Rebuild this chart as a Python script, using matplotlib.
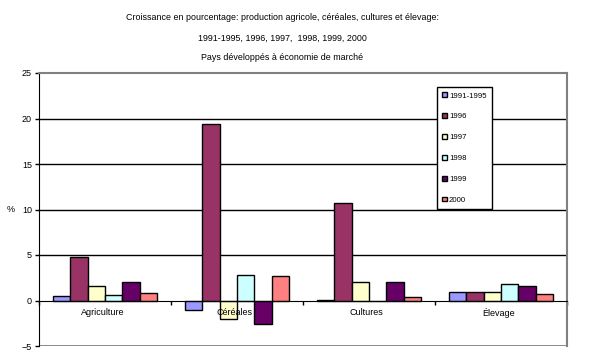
import matplotlib
matplotlib.use("Agg")
import matplotlib.pyplot as plt
import numpy as np

plt.rcParams['font.family'] = ['Liberation Sans', 'DejaVu Sans']

categories = ["Agriculture", "Céréales", "Cultures", "Élevage"]
series = ["1991-1995", "1996", "1997", "1998", "1999", "2000"]
colors = ["#9999FF", "#993366", "#FFFFCC", "#CCFFFF", "#660066", "#FF8080"]

v_9195 = [0.5, -1.0, 0.05, 0.9]
v_1996 = [4.8, 19.4, 10.7, 0.9]
v_1997 = [1.6, -2.05, 2.0, 0.9]
v_1998 = [0.6, 2.8, 0.0, 1.8]
v_1999 = [2.0, -2.6, 2.0, 1.6]
v_2000 = [0.85, 2.7, 0.4, 0.7]
values = [v_9195, v_1996, v_1997, v_1998, v_1999, v_2000]

fig = plt.figure(figsize=(5.89, 3.62), dpi=100)
ax = fig.add_axes([39 / 589, 1 - 346 / 362, 528 / 589, 273 / 362])

x = np.arange(len(categories))
w = 0.131
for i, (s, vals) in enumerate(zip(series, values)):
    ax.bar(x + (i - 2.5) * w, vals, w, color=colors[i], edgecolor="black",
           linewidth=1, label=s, zorder=3)

ax.set_xlim(-0.5, 3.5)
ax.set_ylim(-5, 25)
ax.set_yticks(range(-5, 26, 5))
for yv in [5, 10, 15, 20]:
    ax.axhline(yv, color="black", linewidth=1, zorder=1)
ax.axhline(-5, color="gray", linewidth=2, zorder=1)

ax.spines['bottom'].set_position(('data', 0))
ax.spines['bottom'].set_zorder(4)
ax.spines['top'].set_color("gray")
ax.spines['right'].set_color("gray")
ax.spines['top'].set_linewidth(1.5)
ax.spines['right'].set_linewidth(1.5)
ax.set_xticks([-0.5, 0.5, 1.5, 2.5, 3.5])
ax.set_xticklabels([])
ax.tick_params(axis='x', direction='out', length=3, width=1)
ax.tick_params(axis='y', direction='out', length=3, width=1, labelsize=6.5, pad=2)

for xi, c in zip(x, categories):
    ax.text(xi - 0.02, -1.35, c, ha="center", va="center", fontsize=6.5, zorder=5)

ax.set_ylabel("%", fontsize=6.5, rotation=0, labelpad=8, va="center")

fig.text(282 / 589, 1 - 18 / 362,
         "Croissance en pourcentage: production agricole, céréales, cultures et élevage:",
         ha="center", va="center", fontsize=6.4)
fig.text(282 / 589, 1 - 38 / 362, "1991-1995, 1996, 1997,  1998, 1999, 2000",
         ha="center", va="center", fontsize=6.4)
fig.text(282 / 589, 1 - 57 / 362, "Pays développés à économie de marché",
         ha="center", va="center", fontsize=6.4)

leg = fig.legend(loc="upper left", bbox_to_anchor=(437 / 589, 1 - 87 / 362),
                 fontsize=5.6, handlelength=0.6, handleheight=0.6,
                 handletextpad=0.25, labelspacing=1.75, borderpad=0.7,
                 borderaxespad=0, fancybox=False, framealpha=1,
                 edgecolor="black")
leg.get_frame().set_linewidth(1)

fig.savefig("out.png", dpi=100)
